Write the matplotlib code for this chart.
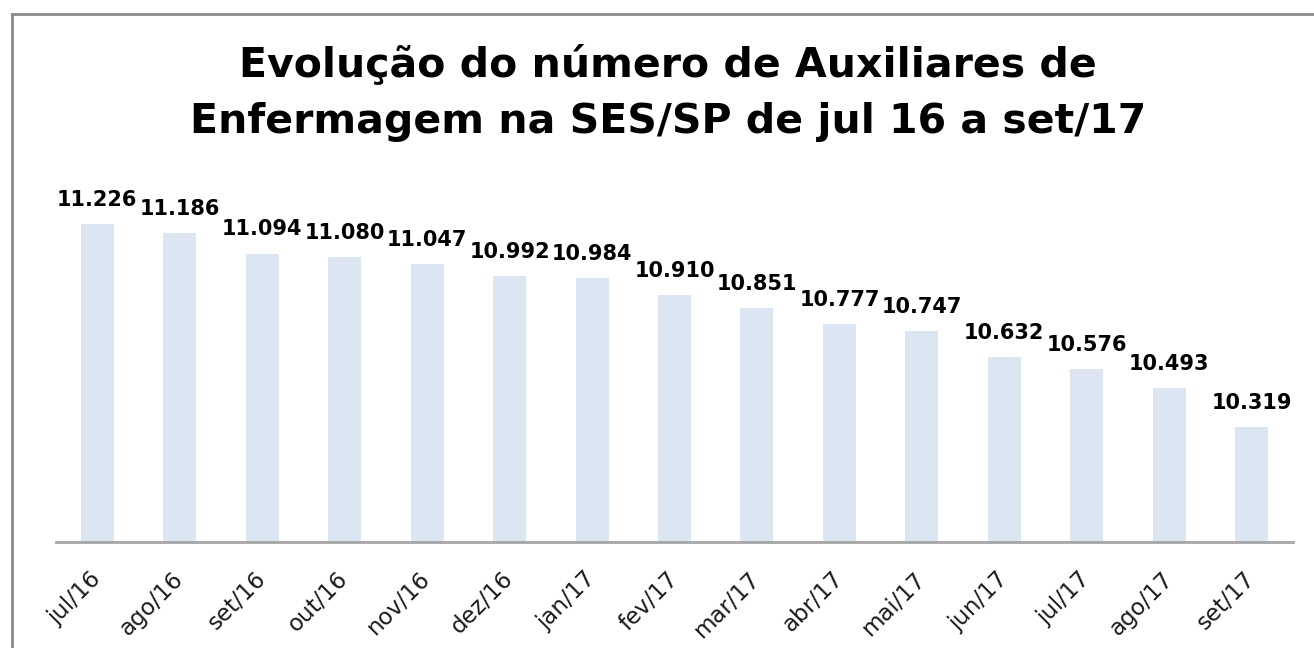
import matplotlib
matplotlib.use("Agg")
import matplotlib.pyplot as plt
from matplotlib.lines import Line2D

months = ["jul/16", "ago/16", "set/16", "out/16", "nov/16", "dez/16", "jan/17",
          "fev/17", "mar/17", "abr/17", "mai/17", "jun/17", "jul/17", "ago/17", "set/17"]
values = [11.226, 11.186, 11.094, 11.080, 11.047, 10.992, 10.984,
          10.910, 10.851, 10.777, 10.747, 10.632, 10.576, 10.493, 10.319]
value_labels = ["11.226", "11.186", "11.094", "11.080", "11.047", "10.992", "10.984",
                "10.910", "10.851", "10.777", "10.747", "10.632", "10.576", "10.493", "10.319"]
title = "Evolução do número de Auxiliares de\nEnfermagem na SES/SP de jul 16 a set/17"

W, H = 1314, 648
fig = plt.figure(figsize=(W / 100, H / 100), dpi=100)
plt.rcParams['font.family'] = ['DejaVu Sans']

# axes placement in pixels
left_px, right_px = 56, 1293
top_px, bottom_px = 180, 542
ax = fig.add_axes([left_px / W, (H - bottom_px) / H,
                   (right_px - left_px) / W, (bottom_px - top_px) / H])

x = list(range(len(months)))
ax.bar(x, values, width=0.4, color="#dce6f2", zorder=2)
ax.set_xlim(-0.5, len(months) - 0.5)
ymin = 9.805
ax.set_ylim(ymin, ymin + (bottom_px - top_px) / 223.8)

for xi, v, lab in zip(x, values, value_labels):
    ax.annotate(lab, (xi, v), xytext=(0, 13), textcoords="offset points",
                ha="center", va="baseline", fontsize=15, fontweight="bold",
                color="#000000")

for s in ["top", "right", "left"]:
    ax.spines[s].set_visible(False)
ax.spines["bottom"].set_color("#a6a6a6")
ax.spines["bottom"].set_linewidth(2)
ax.set_yticks([])
ax.set_xticks(x)
ax.set_xticklabels(months, rotation=45, ha="right", va="center",
                   rotation_mode="anchor", fontsize=16.5, color="#1a1a1a")
ax.tick_params(axis="x", length=0, pad=24)

fig.text(668 / W, 1 - 93 / H, title, ha="center", va="center", fontsize=29.5,
         fontweight="bold", color="#000000", linespacing=1.55)

# outer chart border (top and left visible)
fig.add_artist(Line2D([12 / W, 12 / W], [0, 1 - 14 / H], transform=fig.transFigure,
                      color="#8c8c8c", lw=2))
fig.add_artist(Line2D([12 / W, 1], [1 - 14 / H, 1 - 14 / H], transform=fig.transFigure,
                      color="#8c8c8c", lw=2))

fig.savefig("out.png", dpi=100, facecolor="white")
